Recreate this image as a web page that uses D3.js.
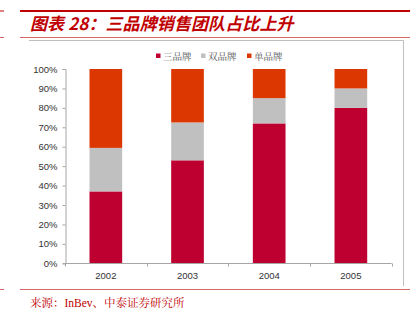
<!DOCTYPE html>
<html><head><meta charset="utf-8">
<script src="https://cdn.jsdelivr.net/npm/d3@7"></script>
<style>body{margin:0;background:#fff}svg{display:block}</style>
</head><body>
<svg id="c" width="419" height="321"></svg>
<script>
const categories = ["2002","2003","2004","2005"];
const seriesNames = ["三品牌","双品牌","单品牌"];
const triple = [37, 53, 72, 80];
const dual = [22.4, 19.5, 13, 10];
const single = [40.6, 27.5, 15, 10];
const yTicks = [0,10,20,30,40,50,60,70,80,90,100];
const colors = ["#BE0030", "#C0C0C0", "#DC3700"];
const title = "图表 28：三品牌销售团队占比上升";
const source = "来源：InBev、中泰证券研究所";

const svg = d3.select("#c");
// header lines
svg.append("line").attr("x1",20).attr("x2",410).attr("y1",11).attr("y2",11).attr("stroke","#C00000").attr("stroke-width",2);
svg.append("line").attr("x1",20).attr("x2",410).attr("y1",37.5).attr("y2",37.5).attr("stroke","#D46A6A").attr("stroke-width",1);
svg.append("line").attr("x1",0).attr("x2",4).attr("y1",11).attr("y2",11).attr("stroke","#C00000").attr("stroke-width",1);
svg.append("line").attr("x1",0).attr("x2",4).attr("y1",37.5).attr("y2",37.5).attr("stroke","#D46A6A").attr("stroke-width",1);
svg.append("text").attr("x",30).attr("y",30).text(title)
  .attr("fill","#C00000").attr("font-size",17).attr("font-weight","bold").attr("font-style","italic")
  .attr("letter-spacing",0.1)
  .attr("font-family","'Noto Sans CJK SC', sans-serif");
// frame (top + right)
svg.append("path").attr("d","M29,40.5H403.5V286").attr("fill","none").attr("stroke","#BFBFBF").attr("stroke-width",1);
// source
svg.append("line").attr("x1",20).attr("x2",410).attr("y1",289.5).attr("y2",289.5).attr("stroke","#D46A6A").attr("stroke-width",1);
svg.append("line").attr("x1",0).attr("x2",4).attr("y1",289.5).attr("y2",289.5).attr("stroke","#D46A6A").attr("stroke-width",1);
svg.append("text").attr("x",30).attr("y",307).text(source)
  .attr("fill","#C00000").attr("font-size",11.5).attr("font-family","'Liberation Serif','Noto Serif CJK SC', serif");

// scales
const x = d3.scaleBand().domain(categories).range([65, 391.7]).paddingInner(0.6).paddingOuter(0.3);
const y = d3.scaleLinear().domain([0,100]).range([263.3, 69]);

const data = categories.map((c,i)=>({cat:c, "三品牌":triple[i], "双品牌":dual[i], "单品牌":single[i]}));
const stack = d3.stack().keys(seriesNames)(data);

svg.append("g").selectAll("g").data(stack).join("g").attr("fill",(d,i)=>colors[i])
  .selectAll("rect").data(d=>d).join("rect")
  .attr("x",d=>x(d.data.cat)).attr("width",x.bandwidth())
  .attr("y",d=>y(d[1])).attr("height",d=>y(d[0])-y(d[1]));

// y axis
const ya = svg.append("g").attr("transform","translate(65.5,0)")
  .call(d3.axisLeft(y).tickValues(yTicks).tickFormat(d=>d+"%").tickSize(3).tickPadding(5));
ya.selectAll("path,line").attr("stroke","#A6A6A6");
ya.selectAll("text").attr("font-size",9.5).attr("fill","#333").attr("font-family","'Liberation Sans',Arial,sans-serif");

// x axis
const xa = svg.append("g").attr("transform","translate(0,263.5)")
  .call(d3.axisBottom(x).tickSize(0).tickPadding(9));
xa.select("path").attr("stroke","#A6A6A6").attr("d","M65,0H391.7");
xa.selectAll("text").attr("font-size",9.5).attr("fill","#333").attr("font-family","'Liberation Sans',Arial,sans-serif");
// category boundary ticks
const bounds = d3.range(categories.length+1).map(i=>65 + i*(391.7-65)/categories.length);
xa.selectAll("line.b").data(bounds).join("line").attr("class","b")
  .attr("x1",d=>Math.round(d)+0.5).attr("x2",d=>Math.round(d)+0.5).attr("y1",0).attr("y2",3).attr("stroke","#A6A6A6");

// legend
const leg = svg.append("g");
const lx = [156, 201, 247];
seriesNames.forEach((n,i)=>{
  leg.append("rect").attr("x",lx[i]).attr("y",53.5).attr("width",4.5).attr("height",4.5).attr("fill",colors[i]);
  leg.append("text").attr("x",lx[i]+7).attr("y",59.5).text(n).attr("font-size",9.5).attr("fill","#555")
    .attr("font-family","'Noto Serif CJK SC','Noto Sans CJK SC',serif");
});
</script>
</body></html>
